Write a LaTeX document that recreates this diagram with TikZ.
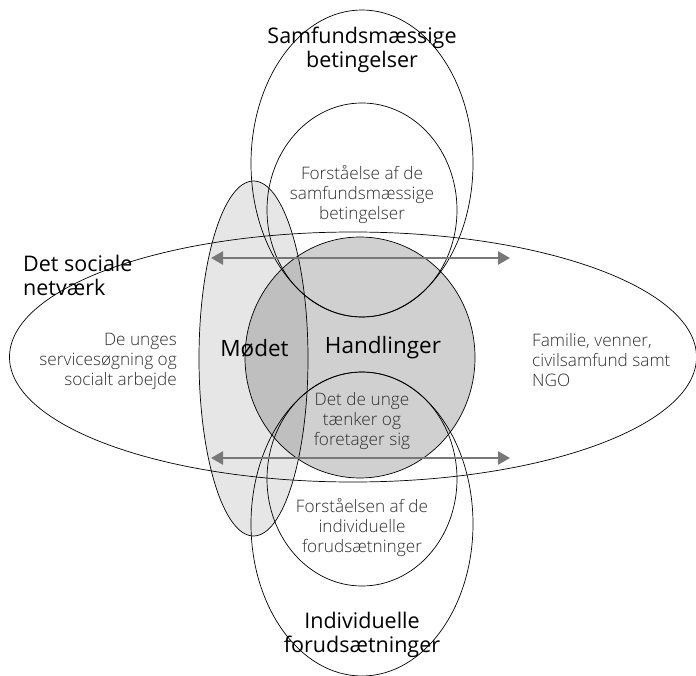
\documentclass[tikz,border=0pt]{standalone}
\usepackage{fontspec}
\setmainfont{Open Sans}
\IfFontExistsTF{Open Sans Light}{\newfontfamily\lightfont{Open Sans Light}}{\newfontfamily\lightfont{Open Sans}}
\usetikzlibrary{arrows.meta,shapes.geometric}
\definecolor{modetfill}{HTML}{E6E6E6}
\definecolor{handfill}{HTML}{D0D0D0}
\definecolor{overfill}{HTML}{BFBFBF}
\definecolor{arrowgray}{HTML}{787878}
\definecolor{lighttext}{HTML}{2E2E2E}
\tikzset{
  outline/.style={draw=black, line width=0.7pt},
  bigtext/.style={inner sep=0pt, font=\fontsize{21.5}{24}\selectfont, text=black},
  centertext/.style={inner sep=0pt, font=\fontsize{22.5}{25}\selectfont, text=black},
  smalltext/.style={inner sep=0pt, font=\lightfont\fontsize{17.2}{20}\selectfont, text=lighttext},
  twoway/.style={draw=arrowgray, line width=2.6pt, {Triangle[length=12pt,width=13pt]}-{Triangle[length=12pt,width=13pt]}},
}
\begin{document}
\begin{tikzpicture}[x=1pt,y=-1pt]
\useasboundingbox (0,0) rectangle (696,676);
% fills
\fill[modetfill] (253.5,358.5) ellipse [x radius=54.5, y radius=177.5];
\fill[handfill] (360,357.5) ellipse [x radius=115, y radius=120.5];
\begin{scope}
  \clip (253.5,358.5) ellipse [x radius=54.5, y radius=177.5];
  \fill[overfill] (360,357.5) ellipse [x radius=115, y radius=120.5];
\end{scope}
% outlines
\draw[outline] (353,357) ellipse [x radius=343.5, y radius=125];
\draw[outline] (362,163.5) ellipse [x radius=111, y radius=153.5];
\draw[outline] (362,210) ellipse [x radius=95, y radius=107];
\draw[outline] (362,479) ellipse [x radius=95, y radius=107];
\draw[outline] (362,524) ellipse [x radius=111, y radius=152];
\draw[outline] (253.5,358.5) ellipse [x radius=54.5, y radius=177.5];
\draw[outline] (360,357.5) ellipse [x radius=115, y radius=120.5];
% arrows
\coordinate (a1l) at (211,258);
\coordinate (a1r) at (510,258);
\coordinate (a2l) at (211,458);
\coordinate (a2r) at (510,458);
\draw[twoway] (a1l) -- (a1r);
\draw[twoway] (a2l) -- (a2r);
% texts
\node[bigtext, align=center] (samf) at (362,50) {Samfundsmæssige\\betingelser};
\node[bigtext, align=center] (indiv) at (362,635) {Individuelle\\forudsætninger};
\node[bigtext, align=left, anchor=west] (social) at (23,275) {Det sociale\\netværk};
\node[centertext] (modet) at (254.5,348) {Mødet};
\node[centertext] (handl) at (383,348) {Handlinger};
\node[smalltext, align=center] (forst1) at (362,195) {Forståelse af de\\samfundsmæssige\\betingelser};
\node[smalltext, align=center] (tanker) at (362,421) {Det de unge\\tænker og\\foretager sig};
\node[smalltext, align=center] (forst2) at (362,528) {Forståelsen af de\\individuelle\\forudsætninger};
\node[smalltext, align=right, anchor=east] (unges) at (177,361) {De unges\\servicesøgning og\\socialt arbejde};
\node[smalltext, align=left, anchor=west] (familie) at (532,360) {Familie, venner,\\civilsamfund samt\\NGO};
\end{tikzpicture}
\end{document}
